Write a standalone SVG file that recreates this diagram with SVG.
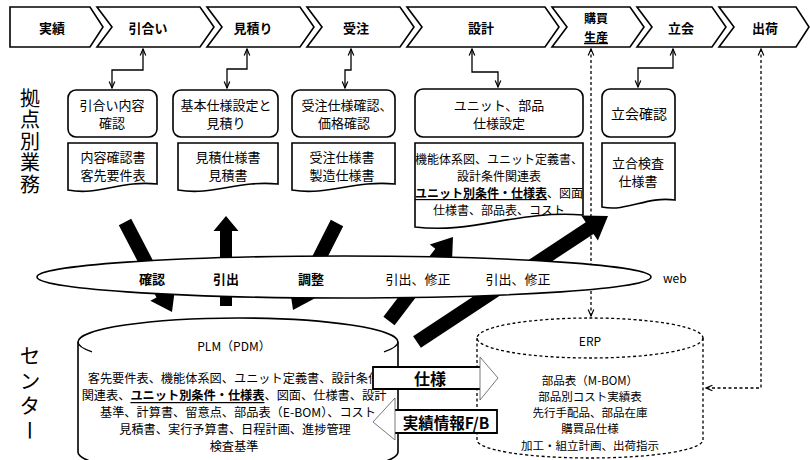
<svg xmlns="http://www.w3.org/2000/svg" width="810" height="460" viewBox="0 0 810 460">
<defs>
<style>
.t{font-family:"Noto Sans CJK JP","Noto Sans",sans-serif;fill:#000;dominant-baseline:central}
.c{text-anchor:middle}
.b{font-weight:700}
.u{text-decoration:underline}
.sh{fill:#fff;stroke:#000;stroke-width:1.6}
.ln{fill:none;stroke:#000;stroke-width:1.3}
.dl{fill:none;stroke:#000;stroke-width:1.3;stroke-dasharray:3 2.5}
.blk{fill:#000;stroke:none}
.thin{fill:#fff;stroke:#555;stroke-width:0.8}
.edge{fill:none;stroke:#000;stroke-width:1.8}
</style>
<marker id="ah" viewBox="0 0 10 10" refX="9" refY="5" markerUnits="userSpaceOnUse" markerWidth="8" markerHeight="8" orient="auto-start-reverse">
<path d="M1,1.5 L9,5 L1,8.5" fill="none" stroke="#000" stroke-width="1.5"/>
</marker>
</defs>
<rect width="810" height="460" fill="#fff"/>

<!-- stage chevrons -->
<g id="stage-jisseki"><polygon class="sh" points="10,7 90,7 103,27 90,47 10,47"/><text class="t c b" x="52" y="27" font-size="13">実績</text></g>
<g id="stage-hikiai"><polygon class="sh" points="97,7 200,7 214,27 200,47 97,47 112,27"/><text class="t c b" x="148" y="27" font-size="13">引合い</text></g>
<g id="stage-mitsumori"><polygon class="sh" points="207,7 300,7 314,27 300,47 207,47 222,27"/><text class="t c b" x="253" y="27" font-size="13">見積り</text></g>
<g id="stage-juchu"><polygon class="sh" points="307,7 400,7 414,27 400,47 307,47 322,27"/><text class="t c b" x="356" y="27" font-size="13">受注</text></g>
<g id="stage-sekkei"><polygon class="sh" points="407,7 545,7 559,27 545,47 407,47 422,27"/><text class="t c b" x="481" y="27" font-size="13">設計</text></g>
<g id="stage-kobai"><polygon class="sh" points="552,7 630,7 644,27 630,47 552,47 567,27"/><text class="t c b" x="596" y="17.5" font-size="12">購買</text><text class="t c b u" x="596" y="36.5" font-size="12">生産</text></g>
<g id="stage-tachiai"><polygon class="sh" points="637,7 712,7 726,27 712,47 637,47 652,27"/><text class="t c b" x="681" y="27" font-size="13">立会</text></g>
<g id="stage-shukka"><polygon class="sh" points="719,7 796,7 809,27 796,47 719,47 734,27"/><text class="t c b" x="765" y="27" font-size="13">出荷</text></g>

<!-- side labels -->
<text class="t" x="30" y="88" font-size="20" letter-spacing="1.5" style="writing-mode:vertical-rl">拠点別業務</text>
<text class="t" x="30" y="345" font-size="21" letter-spacing="4" style="writing-mode:vertical-rl">センター</text>

<!-- thin connectors -->
<g id="connectors">
<polyline class="ln" points="143,49 143,70 112,70 112,88" marker-start="url(#ah)" marker-end="url(#ah)"/>
<polyline class="ln" points="247,49 247,69 227,69 227,88" marker-start="url(#ah)" marker-end="url(#ah)"/>
<polyline class="ln" points="351,49 351,70 345,70 345,88" marker-start="url(#ah)" marker-end="url(#ah)"/>
<polyline class="ln" points="472,49 472,72 498,72 498,87" marker-start="url(#ah)" marker-end="url(#ah)"/>
<polyline class="ln" points="673,49 673,68 638,68 638,87" marker-start="url(#ah)" marker-end="url(#ah)"/>
<polyline class="dl" points="591,49 591,316" marker-start="url(#ah)" marker-end="url(#ah)"/>
<polyline class="dl" points="761,49 761,388 706,388" marker-start="url(#ah)" marker-end="url(#ah)"/>
</g>

<!-- process boxes -->
<g id="box-hikiai"><rect class="sh" x="68" y="90" width="89" height="47" rx="8"/><text class="t c" x="112" y="104" font-size="13">引合い内容</text><text class="t c" x="112" y="122" font-size="13">確認</text></g>
<g id="box-mitsumori"><rect class="sh" x="173" y="90" width="105" height="47" rx="8"/><text class="t c" x="226" y="104" font-size="13">基本仕様設定と</text><text class="t c" x="226" y="122" font-size="13">見積り</text></g>
<g id="box-juchu"><rect class="sh" x="292" y="90" width="103" height="47" rx="8"/><text class="t c" x="347" y="104" font-size="13">受注仕様確認、</text><text class="t c" x="344" y="122" font-size="13">価格確認</text></g>
<g id="box-sekkei"><rect class="sh" x="415" y="89" width="168" height="48" rx="8"/><text class="t c" x="499" y="104" font-size="13">ユニット、部品</text><text class="t c" x="499" y="122" font-size="13">仕様設定</text></g>
<g id="box-tachiai"><rect class="sh" x="602" y="89" width="73" height="48" rx="8"/><text class="t c" x="639" y="113" font-size="14">立会確認</text></g>

<!-- documents -->
<g id="doc-hikiai"><path class="sh" d="M68,143 H157 V184 C121,180 99,196 68,190 Z"/><text class="t c" x="113" y="156" font-size="13">内容確認書</text><text class="t c" x="113" y="174" font-size="13">客先要件表</text></g>
<g id="doc-mitsumori"><path class="sh" d="M178,143 H278 V184 C238,180 213,196 178,190 Z"/><text class="t c" x="228" y="156" font-size="13">見積仕様書</text><text class="t c" x="228" y="174" font-size="13">見積書</text></g>
<g id="doc-juchu"><path class="sh" d="M292,143 H395 V184 C354,180 328,196 292,190 Z"/><text class="t c" x="342" y="156" font-size="13">受注仕様書</text><text class="t c" x="342" y="174" font-size="13">製造仕様書</text></g>
<g id="doc-sekkei"><path class="sh" d="M415,143 H583 V215 C516,210 474,234 415,227 Z"/>
<text class="t c" x="499" y="158" font-size="12">機能体系図、ユニット定義書、</text>
<text class="t c" x="499" y="175" font-size="12">設計条件関連表</text>
<text class="t c" x="499" y="192" font-size="12"><tspan class="b u">ユニット別条件・仕様表</tspan>、図面</text>
<text class="t c" x="499" y="209" font-size="12">仕様書、部品表、コスト</text></g>
<g id="doc-tachiai"><path class="sh" d="M602,143 H675 V200 C646,196 628,212 602,207 Z"/><text class="t c" x="638" y="162" font-size="13">立合検査</text><text class="t c" x="638" y="180" font-size="13">仕様書</text></g>

<!-- thick block arrows -->
<g id="flow-arrows">
<polygon class="blk" points="118.8,225.2 131.2,218.8 168.9,291.1 175.1,287.8 172,312 150.3,300.8 156.5,297.5"/>
<polygon class="blk" points="220,306 220,231 213.5,231 226,216 238.5,231 232,231 232,306"/>
<polygon class="blk" points="330.8,219.8 343.2,226.2 308.2,295.4 314.5,298.5 293,310 289.5,285.9 295.8,289"/>
<polygon class="blk" points="383.4,316.8 394.6,325.2 446.5,257.1 452,261.4 453,237 429.8,244.4 435.3,248.7"/>
<polygon class="blk" points="413.1,336.2 420.9,347.8 593.5,233.9 597.9,240.6 608,216 581.3,215.6 585.7,222.3"/>
</g>

<!-- web band -->
<g id="web">
<ellipse class="sh" cx="344" cy="277" rx="307" ry="21" stroke-width="1.4"/>
<text class="t c b" x="152" y="278" font-size="13">確認</text>
<text class="t c b" x="226" y="278" font-size="13">引出</text>
<text class="t c b" x="311" y="278" font-size="13">調整</text>
<text class="t c" x="418" y="278" font-size="13">引出、修正</text>
<text class="t c" x="518" y="278" font-size="13">引出、修正</text>
<text class="t" x="663" y="277" font-size="12">web</text>
</g>

<!-- PLM cylinder -->
<g id="plm">
<path class="sh" d="M78,342 V452 A160,24 0 0,0 398,452 V342 A160,24 0 0,0 78,342 Z"/>
<path class="ln" stroke-width="1.6" d="M78,342 A160,24 0 0,0 92,351.8 M398,342 A160,24 0 0,1 384,351.8"/>
<text class="t c" x="234" y="345" font-size="12">PLM（PDM）</text>
<text class="t c" x="234" y="378" font-size="12.2">客先要件表、機能体系図、ユニット定義書、設計条件</text>
<text class="t c" x="234" y="395" font-size="12.2">関連表、<tspan class="u" font-weight="700">ユニット別条件・仕様表</tspan>、図面、仕様書、設計</text>
<text class="t c" x="238" y="412" font-size="12.2">基準、計算書、留意点、部品表（E-BOM）、コスト</text>
<text class="t c" x="235" y="429" font-size="12.2">見積書、実行予算書、日程計画、進捗管理</text>
<text class="t c" x="234" y="446" font-size="12.2">検査基準</text>
</g>

<!-- ERP cylinder -->
<g id="erp">
<path d="M477,338 V440 A113,18 0 0,0 703,440 V338 Z" fill="#fff" stroke="none"/>
<path class="dl" d="M477,338 V440 A113,18 0 0,0 703,440 V338"/>
<ellipse class="dl" cx="590" cy="338" rx="113" ry="20" fill="#fff"/>
<text class="t c" x="590" y="340" font-size="12">ERP</text>
<text class="t c" x="590" y="380" font-size="11.5">部品表（M-BOM）</text>
<text class="t c" x="590" y="396" font-size="11.5">部品別コスト実績表</text>
<text class="t c" x="590" y="412" font-size="11.5">先行手配品、部品在庫</text>
<text class="t c" x="590" y="428" font-size="11.5">購買品仕様</text>
<text class="t c" x="590" y="445" font-size="11.5">加工・組立計画、出荷指示</text>
</g>

<!-- exchange arrows -->
<g id="spec-arrow">
<rect x="373" y="367" width="108" height="22" fill="#fff"/>
<path class="edge" d="M480,367 H373 V389 H480"/>
<polygon class="thin" points="480,367.8 480,357 498,378 480,400 480,388.2"/>
<text class="t c b" x="430" y="378" font-size="16">仕様</text>
</g>
<g id="feedback-arrow">
<rect x="394" y="410" width="103" height="23" fill="#fff"/>
<path class="edge" d="M395,410 H497 V433 H395"/>
<polygon class="thin" points="395,410.8 395,398 373,422 395,440 395,432.2"/>
<text class="t c b" x="446" y="422" font-size="15.5">実績情報F/B</text>
</g>
</svg>
